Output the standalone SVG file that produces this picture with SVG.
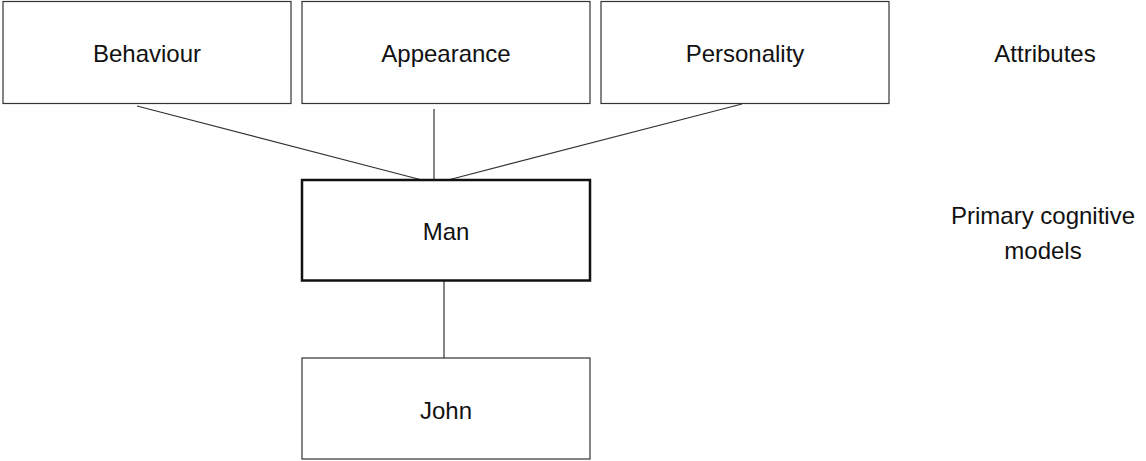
<svg xmlns="http://www.w3.org/2000/svg" width="1146" height="461" viewBox="0 0 1146 461">
<style>
.box{fill:#fff;stroke:#333;stroke-width:1.2}
.bold{fill:#fff;stroke:#111;stroke-width:2.5}
.t{font-family:"Liberation Sans",Arial,sans-serif;font-size:24px;fill:#111;text-anchor:middle;dominant-baseline:central}
.c{stroke:#333;stroke-width:1.2;fill:none}
</style>
<rect width="1146" height="461" fill="#fff"/>
<g id="connectors">
<line class="c" x1="137" y1="106" x2="422" y2="180"/>
<line class="c" x1="434" y1="109" x2="434" y2="180"/>
<line class="c" x1="742" y1="104" x2="448" y2="180"/>
<line class="c" x1="444" y1="281" x2="444" y2="360"/>
</g>
<g id="behaviour"><rect class="box" x="3" y="1.5" width="288" height="102"/><text class="t" x="147" y="53">Behaviour</text></g>
<g id="appearance"><rect class="box" x="302" y="1.5" width="288" height="102"/><text class="t" x="446" y="53">Appearance</text></g>
<g id="personality"><rect class="box" x="601" y="1.5" width="288" height="102"/><text class="t" x="745" y="53">Personality</text></g>
<g id="man"><rect class="bold" x="302" y="180" width="288" height="100.5"/><text class="t" x="446" y="231">Man</text></g>
<g id="john"><rect class="box" x="302" y="358" width="288" height="101"/><text class="t" x="446" y="410">John</text></g>
<g id="attributes"><text class="t" x="1045" y="53">Attributes</text></g>
<g id="primary"><text class="t" x="1043" y="215">Primary cognitive</text><text class="t" x="1043" y="250">models</text></g>
</svg>
